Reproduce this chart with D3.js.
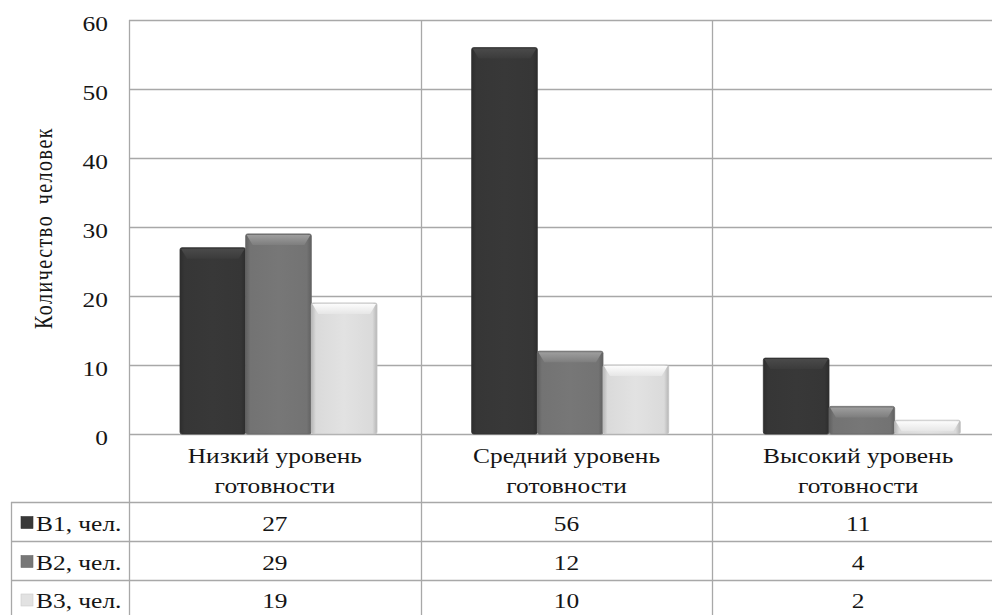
<!DOCTYPE html>
<html>
<head>
<meta charset="utf-8">
<script src="https://cdn.jsdelivr.net/npm/d3@7"></script>
<style>
  html, body { margin: 0; padding: 0; background: #fff; }
  svg { display: block; }
  svg text.lbl { font-family: "Liberation Serif"; }
</style>
</head>
<body>
<svg id="chart" width="992" height="615"></svg>
<script>
// Readiness levels and counts per group
const categories = [["Низкий уровень", "готовности"], ["Средний уровень", "готовности"], ["Высокий уровень", "готовности"]];
const seriesNames = ["В1, чел.", "В2, чел.", "В3, чел."];
const b1 = [27, 56, 11];
const b2 = [29, 12, 4];
const b3 = [19, 10, 2];
const yTicks = [0, 10, 20, 30, 40, 50, 60];
const yTitle = "Количество человек";

const series = [b1, b2, b3];
const baseColors = ["#383838", "#777777", "#e2e2e2"];
const FONT = "Liberation Serif";
const STRETCH = 1.27; // horizontally widened lettering

const svg = d3.select("#chart");
const W = 992;
const plot = { left: 129, right: 1004, top: 20, bottom: 434 };
const tableLeft = 11;
const rowLines = [502, 541, 580];
const rowBottom = 620;

const x = d3.scaleBand().domain(d3.range(categories.length)).range([plot.left, plot.right]);
const groupOffset = 51, groupWidth = 197;
const inner = d3.scaleBand().domain(d3.range(series.length)).range([0, groupWidth]);
const y = d3.scaleLinear().domain([0, 60]).range([plot.bottom, plot.top]);

// Text placed at (tx, ty), widened horizontally
const label = (sel, tx, ty, anchor) => sel.attr("class", "lbl").attr("font-family", FONT)
  .attr("fill", "#151515").attr("font-size", 20).attr("text-anchor", anchor)
  .attr("transform", (d, i, n) => {
    const px = typeof tx === "function" ? tx(d, i) : tx;
    const py = typeof ty === "function" ? ty(d, i) : ty;
    return `translate(${px},${py}) scale(${STRETCH},1)`;
  });

const defs = svg.append("defs");
baseColors.forEach((c, i) => {
  const col = d3.color(c);
  const g = defs.append("linearGradient").attr("id", "body" + i).attr("x1", 0).attr("x2", 1).attr("y1", 0).attr("y2", 0);
  g.append("stop").attr("offset", "0%").attr("stop-color", col.darker(0.6));
  g.append("stop").attr("offset", "7%").attr("stop-color", col.darker(0.1));
  g.append("stop").attr("offset", "50%").attr("stop-color", col);
  g.append("stop").attr("offset", "93%").attr("stop-color", col.darker(0.1));
  g.append("stop").attr("offset", "100%").attr("stop-color", col.darker(0.6));
  const t = defs.append("linearGradient").attr("id", "cap" + i).attr("x1", 0).attr("x2", 0).attr("y1", 0).attr("y2", 1);
  t.append("stop").attr("offset", "0%").attr("stop-color", col.brighter(i === 2 ? 0.3 : 0.8));
  t.append("stop").attr("offset", "100%").attr("stop-color", col.brighter(i === 2 ? 0.05 : 0.15));
});

// Horizontal gridlines
svg.append("g").selectAll("line").data(yTicks).join("line")
  .attr("x1", plot.left).attr("x2", W)
  .attr("y1", d => Math.round(y(d)) + 0.5).attr("y2", d => Math.round(y(d)) + 0.5)
  .attr("stroke", "#a8a8a8").attr("stroke-width", 1.3);

// Y tick labels
svg.append("g").selectAll("text").data(yTicks).join("text")
  .call(label, 108, d => y(d) + 11, "end").text(d => d);

// Axis title (rotated, widened across the line)
svg.append("text").attr("class", "lbl").attr("font-family", FONT)
  .attr("fill", "#151515").attr("font-size", 20).attr("text-anchor", "middle")
  .attr("letter-spacing", 1.5).attr("word-spacing", 4)
  .attr("transform", `translate(52,228) rotate(-90) scale(1,${STRETCH})`)
  .text(yTitle);

// Bars with bevelled tops
const bars = svg.append("g");
categories.forEach((cat, ci) => {
  series.forEach((vals, si) => {
    const bx = x(ci) + groupOffset + inner(si);
    const bw = inner.bandwidth();
    const top = y(vals[ci]);
    const h = plot.bottom - top;
    const g = bars.append("g");
    g.append("rect").attr("x", bx).attr("y", top).attr("width", bw).attr("height", h).attr("rx", 2)
      .attr("fill", `url(#body${si})`).attr("stroke", d3.color(baseColors[si]).darker(0.4)).attr("stroke-width", 0.8);
    const capH = Math.min(11, h);
    g.append("path")
      .attr("d", `M${bx + 1},${top + 1} L${bx + bw - 1},${top + 1} L${bx + bw - 7},${top + capH} L${bx + 7},${top + capH} Z`)
      .attr("fill", `url(#cap${si})`);
  });
});

// Category dividers extending through the table
svg.append("g").selectAll("line").data(d3.range(categories.length)).join("line")
  .attr("x1", d => Math.round(x(d)) + 0.5).attr("x2", d => Math.round(x(d)) + 0.5)
  .attr("y1", plot.top).attr("y2", rowBottom)
  .attr("stroke", "#a8a8a8").attr("stroke-width", 1.3);

// Table row lines
svg.append("g").selectAll("line").data(rowLines).join("line")
  .attr("x1", tableLeft).attr("x2", W).attr("y1", d => d + 0.5).attr("y2", d => d + 0.5)
  .attr("stroke", "#a8a8a8").attr("stroke-width", 1.3);
svg.append("line").attr("x1", tableLeft + 0.5).attr("x2", tableLeft + 0.5)
  .attr("y1", rowLines[0]).attr("y2", rowBottom).attr("stroke", "#a8a8a8").attr("stroke-width", 1.3);

// Category labels
const catG = svg.append("g");
categories.forEach((lines, ci) => {
  const cx = x(ci) + x.bandwidth() / 2;
  lines.forEach((l, li) => {
    catG.append("text").call(label, cx, 463 + li * 30, "middle").text(l);
  });
});

// Data table rows with legend keys
const tbl = svg.append("g");
const rowTops = [rowLines[0], rowLines[1], rowLines[2]];
const rowBots = [rowLines[1], rowLines[2], 618];
series.forEach((vals, si) => {
  const cy = (rowTops[si] + rowBots[si]) / 2;
  tbl.append("rect").attr("x", 21).attr("y", cy - 5).attr("width", 12).attr("height", 12)
    .attr("fill", baseColors[si]).attr("stroke", d3.color(baseColors[si]).darker(0.3)).attr("stroke-width", 0.6);
  tbl.append("text").call(label, 36, cy + 9, "start").text(seriesNames[si]);
  vals.forEach((v, ci) => {
    tbl.append("text").call(label, x(ci) + x.bandwidth() / 2, cy + 9, "middle").text(v);
  });
});
</script>
</body>
</html>
